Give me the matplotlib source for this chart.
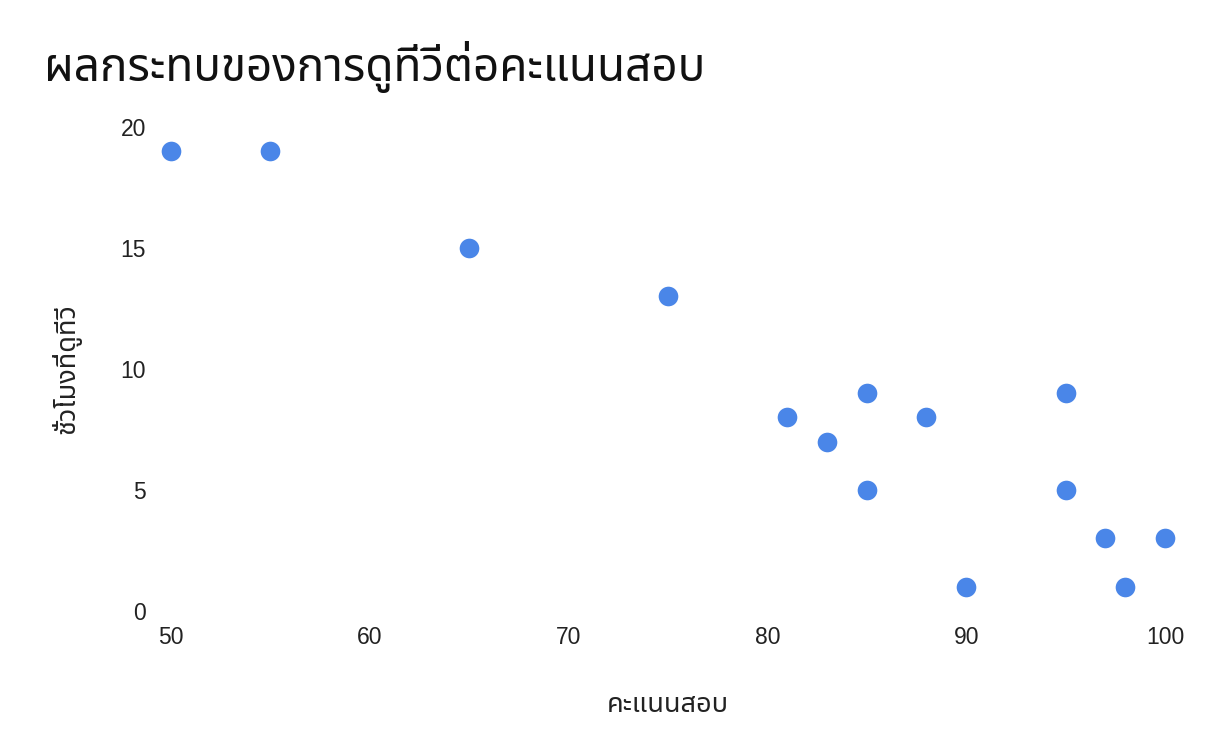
import matplotlib
matplotlib.use('Agg')
import matplotlib.pyplot as plt

# ข้อมูล: คะแนนสอบ กับ ชั่วโมงที่ดูทีวี
scores = [50, 55, 65, 75, 81, 83, 85, 85, 88, 90, 95, 95, 97, 98, 100]
tv_hours = [19, 19, 15, 13, 8, 7, 9, 5, 8, 1, 9, 5, 3, 1, 3]
x_ticks = [50, 60, 70, 80, 90, 100]
y_ticks = [0, 5, 10, 15, 20]

thai = ['Noto Sans Thai', 'Noto Sans', 'DejaVu Sans']
plt.rcParams['font.family'] = ['Liberation Sans', 'DejaVu Sans']

fig = plt.figure(figsize=(12.3, 7.52), dpi=100)
ax = fig.add_axes([171 / 1230, 1 - 611 / 752, (1165 - 171) / 1230, (611 - 127) / 752])

ax.scatter(scores, tv_hours, s=200, color='#4a86e8', clip_on=False, zorder=3, linewidths=0)

ax.set_xlim(50, 100)
ax.set_ylim(0, 20)
ax.set_xticks(x_ticks)
ax.set_yticks(y_ticks)
ax.tick_params(length=0, labelsize=16.5, colors='#222222')
ax.tick_params(axis='x', pad=11)
ax.tick_params(axis='y', pad=18)
for s in ax.spines.values():
    s.set_visible(False)

ax.set_xlabel('คะแนนสอบ', fontsize=19.5, color='#222222', labelpad=30, family=thai)
ax.set_ylabel('ชั่วโมงที่ดูทีวี', fontsize=19.5, color='#222222', labelpad=28, family=thai)
fig.text(44 / 1230, 1 - 67 / 752, 'ผลกระทบของการดูทีวีต่อคะแนนสอบ', fontsize=33,
         color='#111111', va='center', ha='left', family=thai, weight='medium')

fig.savefig('out.png', dpi=100, facecolor='white')
